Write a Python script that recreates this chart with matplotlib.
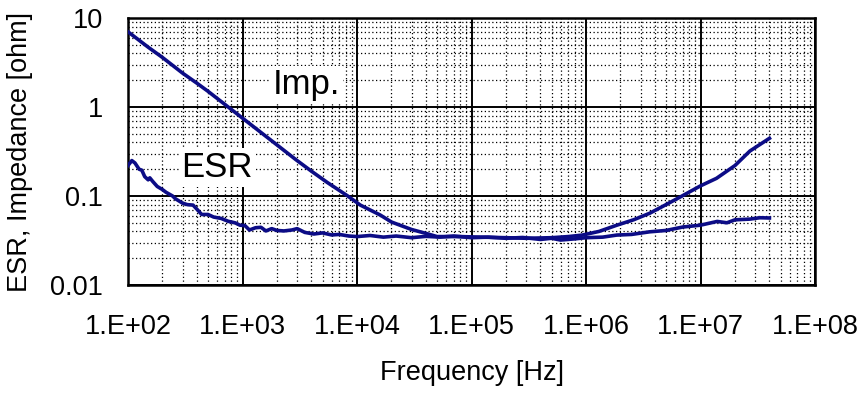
import matplotlib
matplotlib.use("Agg")
import matplotlib.pyplot as plt
from matplotlib.ticker import LogLocator, FixedLocator, NullFormatter

plt.rcParams['font.family'] = ['Liberation Sans', 'DejaVu Sans']

# impedance curve (Hz, ohm)
imp_f = [100, 150, 200, 300, 400, 500, 750, 1000, 1500, 2000, 2950, 4000,
         5500, 8300, 10700, 16000, 20000, 30000, 40000, 50000,
         80000, 120000, 200000, 300000, 500000, 700000, 930000, 1300000,
         1860000, 2600000, 3600000, 5000000, 6900000, 10000000, 13800000,
         20000000, 27000000, 40000000]
imp_z = [7.0, 4.7, 3.6, 2.4, 1.85, 1.5, 1.0, 0.75, 0.5, 0.375, 0.254, 0.19,
         0.142, 0.1, 0.079, 0.061, 0.051, 0.042, 0.038, 0.035,
         0.035, 0.0345, 0.034, 0.0335, 0.034, 0.035, 0.0364, 0.040,
         0.047, 0.054, 0.064, 0.08, 0.1, 0.13, 0.158,
         0.22, 0.32, 0.445]

# ESR curve (Hz, ohm)
esr_f = [100, 108, 115, 125, 132, 140, 150, 155, 165, 180, 200, 215, 245, 260,
         300, 330, 370, 400, 440, 500, 560, 650, 750, 860, 950, 1050, 1150,
         1300, 1450, 1600, 1800, 2000, 2300, 2700, 3000, 3500, 4200, 5000,
         6000, 7000, 8500, 10000, 13000, 17000, 22000, 30000, 40000, 53000,
         70000, 100000, 140000, 200000, 280000, 400000, 500000, 600000,
         800000, 1000000, 1400000, 1860000, 2500000, 3600000, 5000000,
         7000000, 10000000, 14000000, 17000000, 20000000, 27000000,
         33000000, 40000000]
esr_z = [0.22, 0.25, 0.235, 0.2, 0.195, 0.165, 0.152, 0.16, 0.145, 0.128,
         0.118, 0.11, 0.1, 0.093, 0.083, 0.08, 0.079, 0.071, 0.062, 0.062,
         0.058, 0.056, 0.052, 0.050, 0.047, 0.0465, 0.0415, 0.044, 0.0445,
         0.0405, 0.043, 0.041, 0.0405, 0.0415, 0.043, 0.039, 0.0374, 0.0385,
         0.0365, 0.037, 0.0355, 0.035, 0.036, 0.0345, 0.0355, 0.034, 0.0352,
         0.0345, 0.0355, 0.034, 0.0345, 0.0335, 0.0342, 0.0325, 0.0335,
         0.032, 0.033, 0.034, 0.0345, 0.0364, 0.037, 0.0396, 0.041, 0.0448,
         0.047, 0.0518, 0.05, 0.054, 0.055, 0.057, 0.0566]

x_ticks = [1e2, 1e3, 1e4, 1e5, 1e6, 1e7, 1e8]
x_labels = ['1.E+02', '1.E+03', '1.E+04', '1.E+05', '1.E+06', '1.E+07', '1.E+08']
y_ticks = [0.01, 0.1, 1, 10]
y_labels = ['0.01', '0.1', '1', '10']

fig = plt.figure(figsize=(8.65, 3.93), dpi=100)
ax = fig.add_axes([128/865, (393-285)/393, 687/865, 267/393])

line_col = '#0c0c86'
ax.plot(imp_f, imp_z, color=line_col, lw=2.6, zorder=3)
ax.plot(esr_f, esr_z, color=line_col, lw=2.6, zorder=3)

ax.set_xscale('log')
ax.set_yscale('log')
ax.set_xlim(1e2, 1e8)
ax.set_ylim(0.01, 10)

ax.xaxis.set_major_locator(FixedLocator(x_ticks))
ax.set_xticklabels(x_labels)
ax.yaxis.set_major_locator(FixedLocator(y_ticks))
ax.set_yticklabels(y_labels)
ax.xaxis.set_minor_locator(LogLocator(base=10, subs=range(2, 10), numticks=20))
ax.yaxis.set_minor_locator(LogLocator(base=10, subs=range(2, 10), numticks=20))
ax.xaxis.set_minor_formatter(NullFormatter())
ax.yaxis.set_minor_formatter(NullFormatter())

ax.grid(which='major', color='black', lw=1.4, ls='-', zorder=1)
ax.grid(which='minor', color='black', lw=0.9, ls=(0, (1, 2)), zorder=1)
ax.tick_params(which='both', length=0)
ax.tick_params(axis='x', labelsize=19.5, pad=21)
ax.tick_params(axis='y', labelsize=19.5, pad=18)
for s in ax.spines.values():
    s.set_linewidth(1.8)
    s.set_color('black')

ax.set_xlabel('Frequency [Hz]', fontsize=19.5, labelpad=14)
ax.set_ylabel('ESR, Impedance [ohm]', fontsize=19.5, labelpad=12)

box = dict(facecolor='white', edgecolor='none', pad=2)
ax.text(3590, 1.77, 'Imp.', fontsize=25, ha='center', va='center', bbox=box, zorder=2)
ax.text(600, 0.209, 'ESR', fontsize=25, ha='center', va='center', bbox=box, zorder=2)

fig.savefig('out.png', dpi=100)
